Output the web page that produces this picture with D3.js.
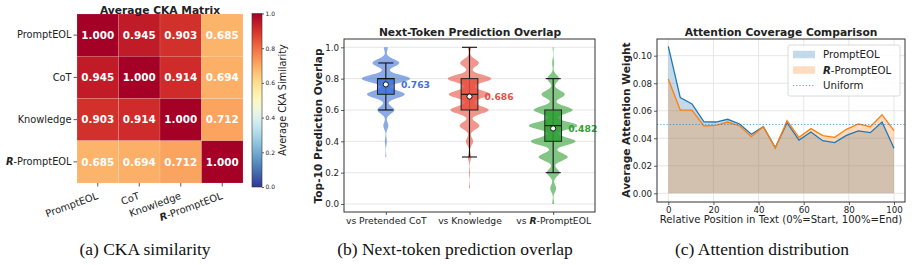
<!DOCTYPE html>
<html>
<head>
<meta charset="utf-8">
<script src="https://cdn.jsdelivr.net/npm/d3@7"></script>
<style>
  body { margin: 0; background: #fff; }
  text { font-family: "DejaVu Sans", sans-serif; fill: #222; }
  .caption { font-family: "Liberation Serif", "Times New Roman", serif; }
</style>
</head>
<body>
<div id="chart"></div>
<script>
// ---- data ----

// (a) CKA matrix
var ckaLabels = ["PromptEOL", "CoT", "Knowledge", "R-PromptEOL"];
var ckaValues = [
  [1.000, 0.945, 0.903, 0.685],
  [0.945, 1.000, 0.914, 0.694],
  [0.903, 0.914, 1.000, 0.712],
  [0.685, 0.694, 0.712, 1.000]
];
var cbarTicks = [0, 0.2, 0.4, 0.6, 0.8, 1.0];

// (b) next-token overlap: counts at each overlap level (violins) and box stats
var overlapGroups = ["vs Pretended CoT", "vs Knowledge", "vs R-PromptEOL"];
var overlapColors = ["#3f72d6", "#e8503f", "#2e9f34"];
var overlapLevels = [0.0, 0.1, 0.2, 0.3, 0.4, 0.5, 0.6, 0.7, 0.8, 0.9, 1.0];
var countsCoT       = [0, 0, 0, 1, 2, 5, 17, 38, 49, 27, 4];
var countsKnowledge = [0, 1, 1, 3, 7, 19, 37, 40, 42, 18, 3];
var countsRPrompt   = [2, 6, 13, 30, 46, 50, 40, 24, 12, 2, 1];
var boxQ1     = [0.7, 0.6, 0.4];
var boxMedian = [0.8, 0.7, 0.5];
var boxQ3     = [0.8, 0.8, 0.6];
var whiskLow  = [0.6, 0.3, 0.2];
var whiskHigh = [0.9, 1.0, 0.8];
var overlapMeans = [0.763, 0.686, 0.482];
var overlapTicks = [0, 0.2, 0.4, 0.6, 0.8, 1.0];

// (c) attention coverage
var positions = [0, 5.3, 10.5, 15.8, 21.1, 26.3, 31.6, 36.8, 42.1, 47.4,
                 52.6, 57.9, 63.2, 68.4, 73.7, 78.9, 84.2, 89.5, 94.7, 100];
var attnPromptEOL = [0.1068, 0.0695, 0.0649, 0.0520, 0.0518, 0.0538, 0.0504, 0.0429, 0.0484, 0.0332,
                     0.0513, 0.0387, 0.0445, 0.0382, 0.0368, 0.0421, 0.0453, 0.0441, 0.0518, 0.0327];
var attnRPromptEOL = [0.0831, 0.0605, 0.0605, 0.0489, 0.0494, 0.0518, 0.0490, 0.0412, 0.0484, 0.0328,
                      0.0528, 0.0407, 0.0470, 0.0419, 0.0407, 0.0465, 0.0504, 0.0484, 0.0571, 0.0455];
var uniformLevel = 0.05;
var attnXTicks = [0, 20, 40, 60, 80, 100];
var attnYTicks = [0, 0.02, 0.04, 0.06, 0.08, 0.10];

var captions = ["(a) CKA similarity", "(b) Next-token prediction overlap", "(c) Attention distribution"];

// ---- helpers ----
var svg = d3.select("#chart").append("svg")
  .attr("width", 912).attr("height", 265)
  .style("background", "#fff");

// labels containing "R-PromptEOL" get a bold italic R
function richText(sel, s) {
  sel.text(null);
  var i = s.indexOf("R-PromptEOL");
  if (i < 0) { sel.text(s); return; }
  if (i > 0) sel.append("tspan").text(s.slice(0, i));
  sel.append("tspan").attr("font-weight", "bold").attr("font-style", "italic").text("R");
  sel.append("tspan").text(s.slice(i + 1));
}

function styleAxis(g, size) {
  g.select(".domain").remove();
  g.selectAll(".tick line").attr("stroke", "#333").attr("stroke-width", 0.8);
  g.selectAll(".tick text").attr("font-size", size).attr("fill", "#222");
}

// ================= (a) heatmap =================
function drawHeatmap() {
  var g = svg.append("g");
  var x = d3.scaleBand().domain(d3.range(4)).range([77, 243]);
  var y = d3.scaleBand().domain(d3.range(4)).range([14, 183]);
  var color = function(v) { return d3.interpolateRdYlBu(1 - v); };

  var cells = [];
  ckaValues.forEach(function(row, r) {
    row.forEach(function(v, c) { cells.push({r: r, c: c, v: v}); });
  });

  g.selectAll("rect.cell").data(cells).enter().append("rect")
    .attr("class", "cell")
    .attr("x", function(d) { return x(d.c); })
    .attr("y", function(d) { return y(d.r); })
    .attr("width", x.bandwidth())
    .attr("height", y.bandwidth())
    .attr("fill", function(d) { return color(d.v); })
    .attr("stroke", "rgba(255,255,255,0.25)")
    .attr("stroke-width", 0.5);

  g.selectAll("text.val").data(cells).enter().append("text")
    .attr("class", "val")
    .attr("x", function(d) { return x(d.c) + x.bandwidth() / 2; })
    .attr("y", function(d) { return y(d.r) + y.bandwidth() / 2; })
    .attr("dy", "0.36em")
    .attr("text-anchor", "middle")
    .attr("font-size", 10.4)
    .attr("font-weight", "bold")
    .style("fill", "#fff")
    .text(function(d) { return d.v.toFixed(3); });

  var ay = g.append("g").attr("transform", "translate(77,0)")
    .call(d3.axisLeft(y).tickSize(3.5).tickPadding(2).tickFormat(function(i) { return ckaLabels[i]; }));
  styleAxis(ay, 9.8);
  ay.selectAll(".tick text").each(function(i) { richText(d3.select(this), ckaLabels[i]); });

  var ax = g.append("g").attr("transform", "translate(0,183)")
    .call(d3.axisBottom(x).tickSize(3.5).tickFormat(function(i) { return ckaLabels[i]; }));
  styleAxis(ax, 9.9);
  ax.selectAll(".tick text")
    .attr("text-anchor", "end")
    .attr("dy", 0)
    .attr("y", 0)
    .attr("transform", "translate(1,15.5) rotate(-20)")
    .each(function(i) { richText(d3.select(this), ckaLabels[i]); });

  g.append("text").attr("x", 160).attr("y", 14.3)
    .attr("text-anchor", "middle").attr("font-size", 10.7).attr("font-weight", "bold")
    .text("Average CKA Matrix");

  // colorbar
  var defs = svg.append("defs");
  var grad = defs.append("linearGradient").attr("id", "cbar")
    .attr("x1", 0).attr("y1", 1).attr("x2", 0).attr("y2", 0);
  d3.range(0, 1.0001, 0.05).forEach(function(t) {
    grad.append("stop").attr("offset", t).attr("stop-color", color(t));
  });
  var cy = d3.scaleLinear().domain([0, 1]).range([187, 13.5]);
  g.append("rect").attr("x", 252).attr("y", 13.5).attr("width", 10).attr("height", 173.5)
    .attr("fill", "url(#cbar)").attr("stroke", "#333").attr("stroke-width", 0.6);
  var cax = g.append("g").attr("transform", "translate(262,0)")
    .call(d3.axisRight(cy).tickValues(cbarTicks).tickSize(2).tickPadding(1.5).tickFormat(d3.format(".1f")));
  styleAxis(cax, 6);
  g.append("text").attr("transform", "translate(286,100) rotate(-90)")
    .attr("text-anchor", "middle").attr("font-size", 9.7)
    .text("Average CKA Similarity");
}

// ================= (b) violins =================
function drawOverlap() {
  var g = svg.append("g");
  var x = d3.scaleLinear().domain([-0.5, 2.5]).range([344, 595]);
  var y = d3.scaleLinear().domain([0, 1]).range([204, 47.3]);

  // grid
  g.selectAll("line.grid").data(overlapTicks).enter().append("line")
    .attr("x1", 344).attr("x2", 595)
    .attr("y1", function(d) { return y(d); }).attr("y2", function(d) { return y(d); })
    .attr("stroke", "#e6e6e6").attr("stroke-width", 1);

  var allCounts = [countsCoT, countsKnowledge, countsRPrompt];
  var bw = 0.024;
  var halfMax = [0.29, 0.26, 0.29];

  allCounts.forEach(function(counts, gi) {
    var present = overlapLevels.filter(function(l, i) { return counts[i] > 0; });
    var lo = d3.min(present), hi = d3.max(present);
    var grid = d3.range(0, 301).map(function(k) { return lo + (hi - lo) * k / 300; });
    var dens = grid.map(function(v) {
      var s = 0;
      overlapLevels.forEach(function(l, i) {
        var z = (v - l) / bw;
        s += counts[i] * Math.exp(-0.5 * z * z);
      });
      return s;
    });
    var m = d3.max(dens);
    var pts = grid.map(function(v, k) { return {v: v, w: dens[k] / m * halfMax[gi]}; });
    var area = d3.area()
      .y(function(d) { return y(d.v); })
      .x0(function(d) { return x(gi - d.w); })
      .x1(function(d) { return x(gi + d.w); });
    g.append("path").datum(pts).attr("d", area)
      .attr("fill", overlapColors[gi]).attr("fill-opacity", 0.6);

    // whiskers
    var cap = 0.09;
    g.append("line").attr("x1", x(gi)).attr("x2", x(gi))
      .attr("y1", y(whiskLow[gi])).attr("y2", y(whiskHigh[gi]))
      .attr("stroke", "#111").attr("stroke-width", 1.1);
    [whiskLow[gi], whiskHigh[gi]].forEach(function(v) {
      g.append("line").attr("x1", x(gi - cap)).attr("x2", x(gi + cap))
        .attr("y1", y(v)).attr("y2", y(v))
        .attr("stroke", "#111").attr("stroke-width", 1.1);
    });
    // box
    g.append("rect").attr("x", x(gi - 0.1)).attr("width", x(0.1) - x(-0.1))
      .attr("y", y(boxQ3[gi])).attr("height", y(boxQ1[gi]) - y(boxQ3[gi]))
      .attr("fill", overlapColors[gi]).attr("fill-opacity", 0.85)
      .attr("stroke", "#222").attr("stroke-width", 1);
    g.append("line").attr("x1", x(gi - 0.1)).attr("x2", x(gi + 0.1))
      .attr("y1", y(boxMedian[gi])).attr("y2", y(boxMedian[gi]))
      .attr("stroke", "#111").attr("stroke-width", 1.1);
    // mean
    g.append("circle").attr("cx", x(gi)).attr("cy", y(overlapMeans[gi])).attr("r", 2.6)
      .attr("fill", "#fff").attr("stroke", "#111").attr("stroke-width", 1);
    g.append("text").attr("x", x(gi + 0.18)).attr("y", y(overlapMeans[gi]))
      .attr("dy", "0.36em").attr("font-size", 9.2).attr("font-weight", "bold")
      .style("fill", overlapColors[gi])
      .text(overlapMeans[gi].toFixed(3));
  });

  g.append("rect").attr("x", 344).attr("y", 39).attr("width", 251).attr("height", 173)
    .attr("fill", "none").attr("stroke", "#333").attr("stroke-width", 1);

  var ay = g.append("g").attr("transform", "translate(344,0)")
    .call(d3.axisLeft(y).tickValues(overlapTicks).tickSize(3).tickPadding(2).tickFormat(d3.format(".1f")));
  styleAxis(ay, 8.7);
  var ax = g.append("g").attr("transform", "translate(0,212)")
    .call(d3.axisBottom(x).tickValues([0, 1, 2]).tickSize(3).tickPadding(2)
      .tickFormat(function(i) { return overlapGroups[i]; }));
  styleAxis(ax, 9.2);
  ax.selectAll(".tick text").each(function(i) { richText(d3.select(this), overlapGroups[i]); });

  g.append("text").attr("x", 470).attr("y", 35.5)
    .attr("text-anchor", "middle").attr("font-size", 10.7).attr("font-weight", "bold")
    .text("Next-Token Prediction Overlap");
  g.append("text").attr("transform", "translate(322,126) rotate(-90)")
    .attr("text-anchor", "middle").attr("font-size", 10.6).attr("font-weight", "bold")
    .text("Top-10 Prediction Overlap");
}

// ================= (c) attention =================
function drawAttention() {
  var g = svg.append("g");
  var x = d3.scaleLinear().domain([0, 100]).range([668.3, 894]);
  var y = d3.scaleLinear().domain([0, 0.1]).range([193.3, 55.7]);

  g.selectAll("line.gx").data(attnXTicks).enter().append("line")
    .attr("x1", function(d) { return x(d); }).attr("x2", function(d) { return x(d); })
    .attr("y1", 39).attr("y2", 202)
    .attr("stroke", "#e3e3e3").attr("stroke-width", 0.9);
  g.selectAll("line.gy").data(attnYTicks).enter().append("line")
    .attr("x1", 657).attr("x2", 905)
    .attr("y1", function(d) { return y(d); }).attr("y2", function(d) { return y(d); })
    .attr("stroke", "#e3e3e3").attr("stroke-width", 0.9);

  var series = [
    {name: "PromptEOL", values: attnPromptEOL, color: "#1f77b4"},
    {name: "R-PromptEOL", values: attnRPromptEOL, color: "#ff7f0e"}
  ];
  var area = d3.area().x(function(d, i) { return x(positions[i]); })
    .y0(y(0)).y1(function(d) { return y(d); });
  var line = d3.line().x(function(d, i) { return x(positions[i]); })
    .y(function(d) { return y(d); });

  series.forEach(function(s) {
    g.append("path").datum(s.values).attr("d", area)
      .attr("fill", s.color).attr("fill-opacity", 0.27);
  });
  series.forEach(function(s) {
    g.append("path").datum(s.values).attr("d", line)
      .attr("fill", "none").attr("stroke", s.color).attr("stroke-width", 1.3);
  });

  g.append("line").attr("x1", 657).attr("x2", 905)
    .attr("y1", y(uniformLevel)).attr("y2", y(uniformLevel))
    .attr("stroke", "#1f77b4").attr("stroke-opacity", 0.7)
    .attr("stroke-width", 1.2).attr("stroke-dasharray", "1.2,2");

  g.append("rect").attr("x", 657).attr("y", 39).attr("width", 248).attr("height", 163)
    .attr("fill", "none").attr("stroke", "#333").attr("stroke-width", 1);

  var ay = g.append("g").attr("transform", "translate(657,0)")
    .call(d3.axisLeft(y).tickValues(attnYTicks).tickSize(3).tickPadding(2).tickFormat(d3.format(".2f")));
  styleAxis(ay, 8.7);
  var ax = g.append("g").attr("transform", "translate(0,202)")
    .call(d3.axisBottom(x).tickValues(attnXTicks).tickSize(3).tickPadding(2));
  styleAxis(ax, 8.7);

  g.append("text").attr("x", 781).attr("y", 35.5)
    .attr("text-anchor", "middle").attr("font-size", 10.7).attr("font-weight", "bold")
    .text("Attention Coverage Comparison");
  g.append("text").attr("x", 781).attr("y", 223)
    .attr("text-anchor", "middle").attr("font-size", 10.1)
    .text("Relative Position in Text (0%=Start, 100%=End)");
  g.append("text").attr("transform", "translate(630,120) rotate(-90)")
    .attr("text-anchor", "middle").attr("font-size", 10.6).attr("font-weight", "bold")
    .text("Average Attention Weight");

  // legend
  var lg = g.append("g").attr("transform", "translate(788,45)");
  lg.append("rect").attr("width", 112).attr("height", 51).attr("rx", 2)
    .attr("fill", "#fff").attr("fill-opacity", 0.85)
    .attr("stroke", "#d0d0d0").attr("stroke-width", 0.8);
  series.forEach(function(s, i) {
    var yy = 9.5 + i * 15.5;
    lg.append("rect").attr("x", 5).attr("y", yy - 3.7).attr("width", 22).attr("height", 7.4)
      .attr("fill", s.color).attr("fill-opacity", 0.27);
    var t = lg.append("text").attr("x", 35).attr("y", yy).attr("dy", "0.36em").attr("font-size", 10.2);
    richText(t, s.name);
  });
  lg.append("line").attr("x1", 5).attr("x2", 27).attr("y1", 40.5).attr("y2", 40.5)
    .attr("stroke", "#1f77b4").attr("stroke-opacity", 0.7)
    .attr("stroke-width", 1.2).attr("stroke-dasharray", "1.2,2");
  lg.append("text").attr("x", 35).attr("y", 40.5).attr("dy", "0.36em").attr("font-size", 10.2)
    .text("Uniform");
}

drawHeatmap();
drawOverlap();
drawAttention();

// captions
var capX = [145, 455, 762];
svg.selectAll("text.caption").data(captions).enter().append("text")
  .attr("class", "caption")
  .attr("x", function(d, i) { return capX[i]; })
  .attr("y", 255)
  .attr("text-anchor", "middle")
  .attr("font-size", 17.5)
  .style("fill", "#111")
  .text(function(d) { return d; });
</script>
</body>
</html>
